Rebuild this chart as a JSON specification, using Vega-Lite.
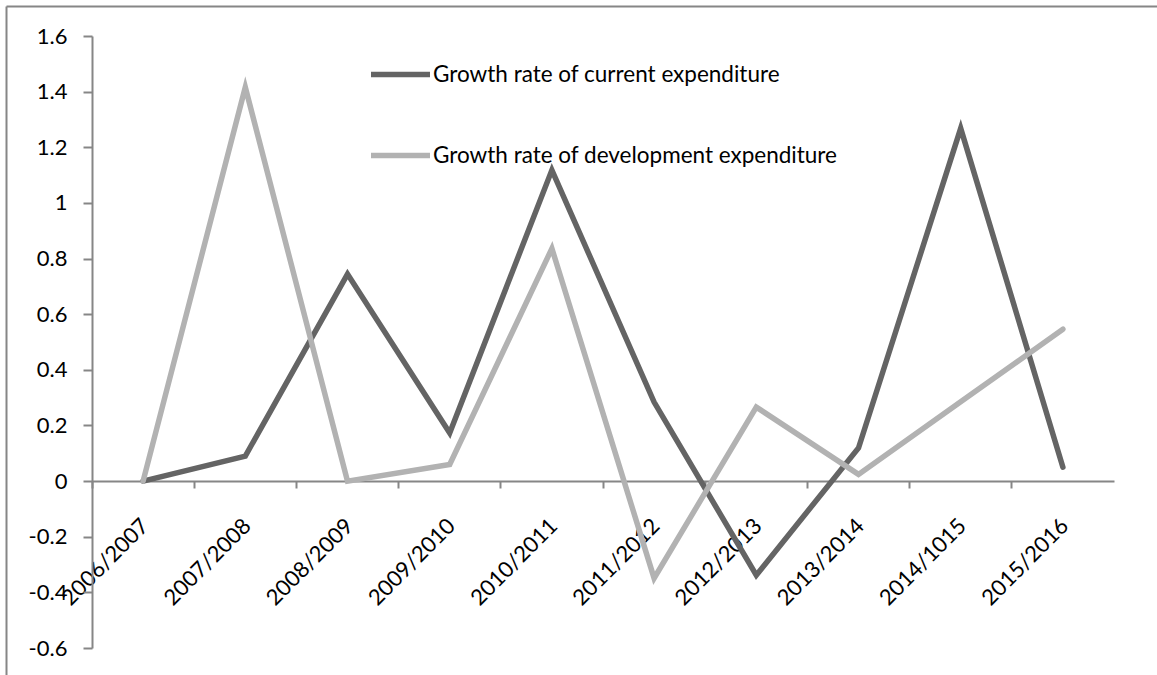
{
  "$schema": "https://vega.github.io/schema/vega-lite/v6.json",
  "autosize": "none",
  "width": 1151,
  "height": 669,
  "padding": {"left": 6, "top": 6, "right": 0, "bottom": 0},
  "background": "white",
  "config": {
    "view": {"stroke": null},
    "font": "Lato",
    "axis": {"labelFont": "Lato", "grid": false, "title": null}
  },
  "data": {
    "values": [
      {"year": "2006/2007", "series": "Growth rate of current expenditure", "rate": 0},
      {"year": "2007/2008", "series": "Growth rate of current expenditure", "rate": 0.09},
      {"year": "2008/2009", "series": "Growth rate of current expenditure", "rate": 0.744},
      {"year": "2009/2010", "series": "Growth rate of current expenditure", "rate": 0.173},
      {"year": "2010/2011", "series": "Growth rate of current expenditure", "rate": 1.118},
      {"year": "2011/2012", "series": "Growth rate of current expenditure", "rate": 0.284},
      {"year": "2012/2013", "series": "Growth rate of current expenditure", "rate": -0.338},
      {"year": "2013/2014", "series": "Growth rate of current expenditure", "rate": 0.119},
      {"year": "2014/1015", "series": "Growth rate of current expenditure", "rate": 1.268},
      {"year": "2015/2016", "series": "Growth rate of current expenditure", "rate": 0.05},
      {"year": "2006/2007", "series": "Growth rate of development expenditure", "rate": 0},
      {"year": "2007/2008", "series": "Growth rate of development expenditure", "rate": 1.416},
      {"year": "2008/2009", "series": "Growth rate of development expenditure", "rate": 0},
      {"year": "2009/2010", "series": "Growth rate of development expenditure", "rate": 0.06},
      {"year": "2010/2011", "series": "Growth rate of development expenditure", "rate": 0.836},
      {"year": "2011/2012", "series": "Growth rate of development expenditure", "rate": -0.349},
      {"year": "2012/2013", "series": "Growth rate of development expenditure", "rate": 0.266},
      {"year": "2013/2014", "series": "Growth rate of development expenditure", "rate": 0.024},
      {"year": "2014/1015", "series": "Growth rate of development expenditure", "rate": 0.285},
      {"year": "2015/2016", "series": "Growth rate of development expenditure", "rate": 0.546}
    ]
  },
  "layer": [
    {
      "mark": {"type": "line", "opacity": 0},
      "encoding": {
        "x": {
          "field": "year", "type": "nominal", "sort": null,
          "axis": {"orient": "top", "domain": true, "domainColor": "#868686", "domainWidth": 2, "labels": false, "ticks": false, "title": null}
        },
        "y": {
          "field": "rate", "type": "quantitative",
          "axis": {"orient": "left", "domain": true, "domainColor": "#868686", "domainWidth": 2, "labels": false, "ticks": false, "title": null}
        },
        "detail": {"field": "series"}
      }
    },
    {
      "mark": {"type": "line", "strokeWidth": 5.5, "strokeCap": "round", "strokeJoin": "miter"},
      "encoding": {
        "x": {
          "field": "year", "type": "nominal", "sort": null,
          "scale": {"type": "band", "range": [86, 1108], "paddingInner": 0, "paddingOuter": 0},
          "axis": {
            "orient": "bottom", "offset": -194, "bandPosition": 0,
            "domainColor": "#868686", "domainWidth": 2,
            "tickColor": "#868686", "tickWidth": 2, "tickSize": 7,
            "labelAngle": -45, "labelAlign": "right", "labelBaseline": "middle",
            "labelOffset": 2, "labelPadding": 34,
            "labelFontSize": 22, "labelColor": "#000000", "labelFont": "Lato",
            "title": null
          }
        },
        "y": {
          "field": "rate", "type": "quantitative",
          "scale": {"domain": [-0.6, 1.6], "range": [642, 30], "nice": false, "zero": false},
          "axis": {
            "orient": "left", "offset": -86,
            "values": [-0.6, -0.4, -0.2, 0, 0.2, 0.4, 0.6, 0.8, 1, 1.2, 1.4, 1.6],
            "labelExpr": "datum.value + ''",
            "domainColor": "#868686", "domainWidth": 2,
            "tickColor": "#868686", "tickWidth": 2, "tickSize": 9,
            "labelPadding": 16, "labelFontSize": 22, "labelColor": "#000000", "labelFont": "Lato",
            "title": null
          }
        },
        "color": {
          "field": "series", "type": "nominal",
          "scale": {"domain": ["Growth rate of current expenditure", "Growth rate of development expenditure"], "range": ["#646464", "#b2b2b2"]},
          "legend": {
            "orient": "none", "legendX": 362, "legendY": 36, "title": null,
            "symbolType": "stroke", "symbolSize": 3481, "symbolStrokeWidth": 5.5,
            "labelFont": "Lato", "labelFontSize": 22.5, "labelColor": "#000000",
            "labelOffset": 0, "rowPadding": 37, "labelLimit": 600
          }
        }
      }
    }
  ],
  "resolve": {"scale": {"x": "independent", "y": "independent"}, "axis": {"x": "independent", "y": "independent"}}
}
